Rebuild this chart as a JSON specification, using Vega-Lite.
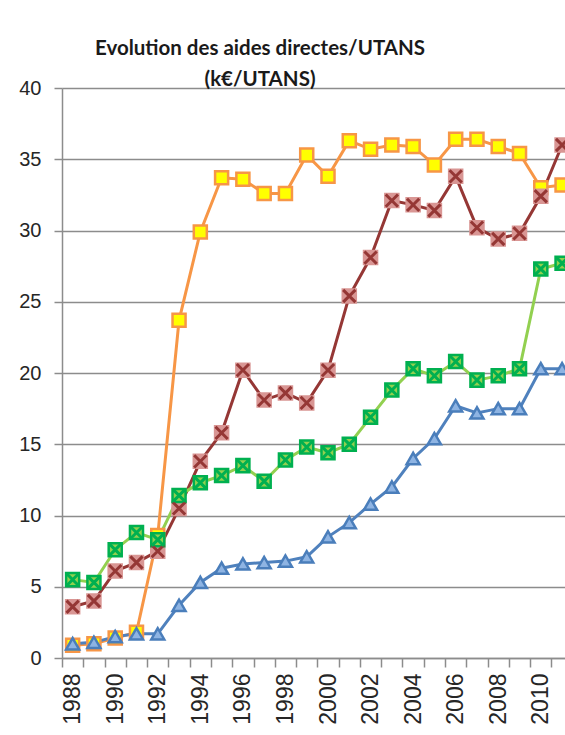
{
  "$schema": "https://vega.github.io/schema/vega-lite/v6.json",
  "autosize": {"type": "none"},
  "width": 532,
  "height": 570,
  "padding": {"left": 62, "top": 88, "right": 0, "bottom": 77},
  "background": "white",
  "title": {
    "text": ["Evolution des aides directes/UTANS", "(k€/UTANS)"],
    "font": "Lato",
    "fontSize": 20.5,
    "fontWeight": "bold",
    "color": "#1a1a1a",
    "lineHeight": 31,
    "anchor": "middle",
    "frame": "group",
    "dx": -68,
    "offset": -12
  },
  "data": {
    "values": [
      {"year": 1988, "series": "S1", "value": 0.9},
      {"year": 1989, "series": "S1", "value": 1.0},
      {"year": 1990, "series": "S1", "value": 1.4},
      {"year": 1991, "series": "S1", "value": 1.8},
      {"year": 1992, "series": "S1", "value": 8.6},
      {"year": 1993, "series": "S1", "value": 23.7},
      {"year": 1994, "series": "S1", "value": 29.9},
      {"year": 1995, "series": "S1", "value": 33.7},
      {"year": 1996, "series": "S1", "value": 33.6},
      {"year": 1997, "series": "S1", "value": 32.6},
      {"year": 1998, "series": "S1", "value": 32.6},
      {"year": 1999, "series": "S1", "value": 35.3},
      {"year": 2000, "series": "S1", "value": 33.8},
      {"year": 2001, "series": "S1", "value": 36.3},
      {"year": 2002, "series": "S1", "value": 35.7},
      {"year": 2003, "series": "S1", "value": 36.0},
      {"year": 2004, "series": "S1", "value": 35.9},
      {"year": 2005, "series": "S1", "value": 34.6},
      {"year": 2006, "series": "S1", "value": 36.4},
      {"year": 2007, "series": "S1", "value": 36.4},
      {"year": 2008, "series": "S1", "value": 35.9},
      {"year": 2009, "series": "S1", "value": 35.4},
      {"year": 2010, "series": "S1", "value": 33.0},
      {"year": 2011, "series": "S1", "value": 33.2},
      {"year": 1988, "series": "S2", "value": 3.6},
      {"year": 1989, "series": "S2", "value": 4.0},
      {"year": 1990, "series": "S2", "value": 6.1},
      {"year": 1991, "series": "S2", "value": 6.7},
      {"year": 1992, "series": "S2", "value": 7.5},
      {"year": 1993, "series": "S2", "value": 10.5},
      {"year": 1994, "series": "S2", "value": 13.8},
      {"year": 1995, "series": "S2", "value": 15.8},
      {"year": 1996, "series": "S2", "value": 20.2},
      {"year": 1997, "series": "S2", "value": 18.1},
      {"year": 1998, "series": "S2", "value": 18.6},
      {"year": 1999, "series": "S2", "value": 17.9},
      {"year": 2000, "series": "S2", "value": 20.2},
      {"year": 2001, "series": "S2", "value": 25.4},
      {"year": 2002, "series": "S2", "value": 28.1},
      {"year": 2003, "series": "S2", "value": 32.1},
      {"year": 2004, "series": "S2", "value": 31.8},
      {"year": 2005, "series": "S2", "value": 31.4},
      {"year": 2006, "series": "S2", "value": 33.8},
      {"year": 2007, "series": "S2", "value": 30.2},
      {"year": 2008, "series": "S2", "value": 29.4},
      {"year": 2009, "series": "S2", "value": 29.8},
      {"year": 2010, "series": "S2", "value": 32.4},
      {"year": 2011, "series": "S2", "value": 36.0},
      {"year": 1988, "series": "S3", "value": 5.5},
      {"year": 1989, "series": "S3", "value": 5.3},
      {"year": 1990, "series": "S3", "value": 7.6},
      {"year": 1991, "series": "S3", "value": 8.8},
      {"year": 1992, "series": "S3", "value": 8.3},
      {"year": 1993, "series": "S3", "value": 11.4},
      {"year": 1994, "series": "S3", "value": 12.3},
      {"year": 1995, "series": "S3", "value": 12.8},
      {"year": 1996, "series": "S3", "value": 13.5},
      {"year": 1997, "series": "S3", "value": 12.4},
      {"year": 1998, "series": "S3", "value": 13.9},
      {"year": 1999, "series": "S3", "value": 14.8},
      {"year": 2000, "series": "S3", "value": 14.4},
      {"year": 2001, "series": "S3", "value": 15.0},
      {"year": 2002, "series": "S3", "value": 16.9},
      {"year": 2003, "series": "S3", "value": 18.8},
      {"year": 2004, "series": "S3", "value": 20.3},
      {"year": 2005, "series": "S3", "value": 19.8},
      {"year": 2006, "series": "S3", "value": 20.8},
      {"year": 2007, "series": "S3", "value": 19.5},
      {"year": 2008, "series": "S3", "value": 19.8},
      {"year": 2009, "series": "S3", "value": 20.3},
      {"year": 2010, "series": "S3", "value": 27.3},
      {"year": 2011, "series": "S3", "value": 27.7},
      {"year": 1988, "series": "S4", "value": 1.0},
      {"year": 1989, "series": "S4", "value": 1.1},
      {"year": 1990, "series": "S4", "value": 1.5},
      {"year": 1991, "series": "S4", "value": 1.7},
      {"year": 1992, "series": "S4", "value": 1.7},
      {"year": 1993, "series": "S4", "value": 3.7},
      {"year": 1994, "series": "S4", "value": 5.3},
      {"year": 1995, "series": "S4", "value": 6.3},
      {"year": 1996, "series": "S4", "value": 6.6},
      {"year": 1997, "series": "S4", "value": 6.7},
      {"year": 1998, "series": "S4", "value": 6.8},
      {"year": 1999, "series": "S4", "value": 7.1},
      {"year": 2000, "series": "S4", "value": 8.5},
      {"year": 2001, "series": "S4", "value": 9.5},
      {"year": 2002, "series": "S4", "value": 10.8},
      {"year": 2003, "series": "S4", "value": 12.0},
      {"year": 2004, "series": "S4", "value": 14.0},
      {"year": 2005, "series": "S4", "value": 15.4},
      {"year": 2006, "series": "S4", "value": 17.7},
      {"year": 2007, "series": "S4", "value": 17.2},
      {"year": 2008, "series": "S4", "value": 17.5},
      {"year": 2009, "series": "S4", "value": 17.5},
      {"year": 2010, "series": "S4", "value": 20.3},
      {"year": 2011, "series": "S4", "value": 20.3}
    ]
  },
  "encoding": {
    "x": {
      "field": "year",
      "type": "ordinal",
      "scale": {
        "type": "band",
        "domain": [1988, 1989, 1990, 1991, 1992, 1993, 1994, 1995, 1996, 1997, 1998, 1999, 2000, 2001, 2002, 2003, 2004, 2005, 2006, 2007, 2008, 2009, 2010, 2011, 2012],
        "paddingInner": 0,
        "paddingOuter": 0
      },
      "axis": {
        "title": null,
        "labelExpr": "datum.value % 2 == 0 && datum.value < 2012 ? datum.label : ''",
        "labelAngle": -90,
        "labelAlign": "right",
        "labelBaseline": "middle",
        "tickBand": "extent",
        "tickColor": "#8c8c8c",
        "tickWidth": 1.5,
        "tickSize": 9,
        "labelPadding": 6,
        "grid": false,
        "domainColor": "#8c8c8c",
        "domainWidth": 1.5,
        "labelFont": "Liberation Sans",
        "labelFontSize": 23,
        "labelColor": "#262626",
        "labelOverlap": false
      }
    },
    "y": {
      "field": "value",
      "type": "quantitative",
      "scale": {"domain": [0, 40], "nice": false},
      "axis": {
        "title": null,
        "values": [0, 5, 10, 15, 20, 25, 30, 35, 40],
        "grid": true,
        "gridColor": "#8c8c8c",
        "gridWidth": 1.5,
        "domainColor": "#8c8c8c",
        "domainWidth": 1.5,
        "tickColor": "#8c8c8c",
        "tickWidth": 1.5,
        "tickSize": 8,
        "labelPadding": 13,
        "labelFont": "Liberation Sans",
        "labelFontSize": 20,
        "labelColor": "#262626"
      }
    }
  },
  "layer": [
    {
      "mark": {"type": "line", "strokeWidth": 3},
      "encoding": {
        "color": {
          "field": "series",
          "type": "nominal",
          "legend": null,
          "scale": {"domain": ["S1", "S2", "S3", "S4"], "range": ["#f79646", "#953735", "#92d050", "#4f81bd"]}
        }
      }
    },
    {
      "mark": {"type": "point", "filled": true, "size": 170, "strokeWidth": 2.5, "opacity": 1},
      "encoding": {
        "shape": {
          "field": "series",
          "type": "nominal",
          "legend": null,
          "scale": {"domain": ["S1", "S2", "S3", "S4"], "range": ["square", "square", "square", "triangle-up"]}
        },
        "fill": {
          "field": "series",
          "type": "nominal",
          "legend": null,
          "scale": {"domain": ["S1", "S2", "S3", "S4"], "range": ["#ffff00", "#d99694", "#92d050", "#8eb4e3"]}
        },
        "stroke": {
          "field": "series",
          "type": "nominal",
          "legend": null,
          "scale": {"domain": ["S1", "S2", "S3", "S4"], "range": ["#f79646", "#d99694", "#00b050", "#4a7ebb"]}
        }
      }
    },
    {
      "transform": [{"filter": "datum.series == 'S2' || datum.series == 'S3'"}],
      "mark": {"type": "point", "shape": "M-1,-1L1,1M-1,1L1,-1", "size": 150, "strokeWidth": 3, "filled": false, "opacity": 1},
      "encoding": {
        "stroke": {
          "field": "series",
          "type": "nominal",
          "legend": null,
          "scale": {"domain": ["S1", "S2", "S3", "S4"], "range": ["#f79646", "#953735", "#00b050", "#4a7ebb"]}
        }
      }
    }
  ],
  "resolve": {"scale": {"stroke": "independent"}},
  "config": {"view": {"stroke": null}}
}
